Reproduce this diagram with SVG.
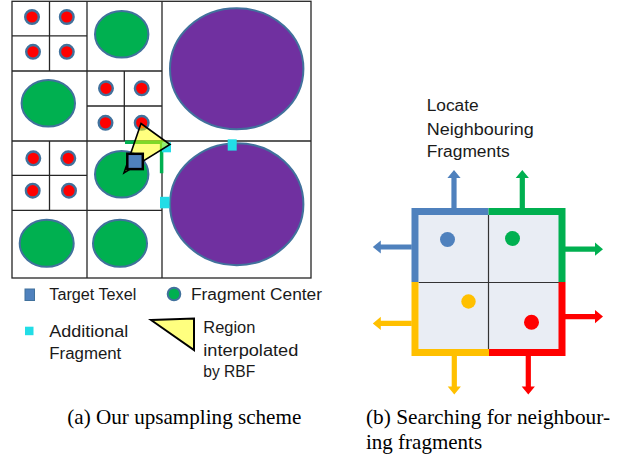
<svg xmlns="http://www.w3.org/2000/svg" xmlns:xlink="http://www.w3.org/1999/xlink" width="620" height="456" viewBox="0 0 620 456">
  <style>
    .grid { fill: none; stroke: #262626; stroke-width: 1.3; }
    .sub { stroke: #262626; stroke-width: 1.3; }
    .red { fill: #FF0000; stroke: #41719C; stroke-width: 2.4; }
    .frag { fill: #00B050; stroke: #41719C; stroke-width: 2; }
    .big { fill: #7030A0; stroke: #41719C; stroke-width: 2; }
    .add { fill: #22DDE6; }
    .region { fill: #FFFF00; fill-opacity: 0.5; stroke: #000; stroke-width: 1.6; stroke-linejoin: miter; }
    .texel { fill: #4F81BD; stroke: #000; stroke-width: 2.5; }
    .lbl { font-family: "Liberation Sans", Arial, sans-serif; font-size: 16px; fill: #1a1a1a; }
    .cap { font-family: "Liberation Serif", "Times New Roman", serif; font-size: 21px; fill: #000; }
    .cell { fill: #E9EDF4; }
    .div { stroke: #333; stroke-width: 1.2; }
    .edge { fill: none; stroke-width: 7; stroke-linejoin: miter; }
  </style>
  <defs>
    <!-- block arrow pointing along +x, base at origin -->
    <path id="arrow" d="M0,-2.6 H31 V-6.6 L39,0 L31,6.6 V2.6 H0 Z"/>
  </defs>

  <!-- (a) quadtree upsampling grid -->
  <g id="quadtree">
    <!-- large fragments -->
    <ellipse class="big" cx="236.7" cy="68.8" rx="66.7" ry="60.5"/>
    <ellipse class="big" cx="236.7" cy="204.2" rx="66.7" ry="61"/>
    <!-- medium fragments -->
    <ellipse class="frag" cx="121.7" cy="34.3" rx="26.7" ry="23.3"/>
    <ellipse class="frag" cx="48.3" cy="103.3" rx="26.7" ry="23.3"/>
    <ellipse class="frag" cx="121.7" cy="174.3" rx="26.7" ry="23.3"/>
    <ellipse class="frag" cx="46.7" cy="243.3" rx="27" ry="23.5"/>
    <ellipse class="frag" cx="120" cy="243.3" rx="27" ry="23.5"/>
    <!-- small fragments -->
    <circle class="red" cx="32" cy="17" r="6.8"/>
    <circle class="red" cx="66.8" cy="17" r="6.8"/>
    <circle class="red" cx="33" cy="51.8" r="6.8"/>
    <circle class="red" cx="66.8" cy="51.8" r="6.8"/>
    <circle class="red" cx="106" cy="88.3" r="6.8"/>
    <circle class="red" cx="141.7" cy="88.3" r="6.8"/>
    <circle class="red" cx="105.5" cy="122.8" r="6.8"/>
    <circle class="red" cx="141.7" cy="122.8" r="6.8"/>
    <circle class="red" cx="33.3" cy="158.3" r="6.8"/>
    <circle class="red" cx="68.3" cy="158.3" r="6.8"/>
    <circle class="red" cx="32.7" cy="190.7" r="6.8"/>
    <circle class="red" cx="69" cy="190.7" r="6.8"/>
    <!-- cell boundaries -->
    <rect class="grid" x="12" y="1.3" width="299" height="276.7"/>
    <line class="sub" x1="87" y1="1.3" x2="87" y2="278"/>
    <line class="sub" x1="162" y1="1.3" x2="162" y2="278"/>
    <line class="sub" x1="12" y1="141" x2="311" y2="141"/>
    <line class="sub" x1="12" y1="71" x2="162" y2="71"/>
    <line class="sub" x1="12" y1="210.3" x2="162" y2="210.3"/>
    <line class="sub" x1="49.5" y1="1.3" x2="49.5" y2="71"/>
    <line class="sub" x1="12" y1="35.8" x2="87" y2="35.8"/>
    <line class="sub" x1="124.3" y1="71" x2="124.3" y2="141"/>
    <line class="sub" x1="87" y1="106" x2="162" y2="106"/>
    <line class="sub" x1="49.5" y1="141" x2="49.5" y2="210.3"/>
    <line class="sub" x1="12" y1="175.4" x2="87" y2="175.4"/>
  </g>

  <!-- neighbour search edges around the target texel -->
  <g id="search-edges">
    <path d="M125,142.3 H161.6 V173.3" fill="none" stroke="#00B050" stroke-width="3.5"/>
  </g>

  <g id="additional-fragments">
    <rect class="add" x="227.7" y="139.3" width="9" height="11.3"/>
    <rect class="add" x="160" y="196.8" width="9.5" height="11.5"/>
    <rect class="add" x="162" y="142.3" width="9" height="10"/>
  </g>

  <g id="rbf-region">
    <polygon class="region" points="141,123.5 170,144.5 124,173"/>
  </g>

  <g id="target-texel">
    <rect class="texel" x="127.3" y="153.8" width="15.5" height="15.3"/>
  </g>

  <!-- legend -->
  <g id="legend-texel">
    <rect x="25" y="289" width="9.5" height="11.5" fill="#4F81BD" stroke="#41719C" stroke-width="1"/>
    <text class="lbl" x="49.3" y="300" textLength="87" lengthAdjust="spacingAndGlyphs">Target Texel</text>
  </g>
  <g id="legend-center">
    <circle cx="174" cy="294" r="6.3" fill="#00B050" stroke="#41719C" stroke-width="2"/>
    <text class="lbl" x="191" y="300" textLength="131" lengthAdjust="spacingAndGlyphs">Fragment Center</text>
  </g>
  <g id="legend-additional">
    <rect class="add" x="25" y="326.7" width="8.5" height="8.5"/>
    <text class="lbl" x="49.3" y="336.7" textLength="79" lengthAdjust="spacingAndGlyphs">Additional</text>
    <text class="lbl" x="49.3" y="359.3" textLength="72" lengthAdjust="spacingAndGlyphs">Fragment</text>
  </g>
  <g id="legend-region">
    <polygon points="151,320 194,318.5 194,350" fill="#FFFF00" fill-opacity="0.5" stroke="#000" stroke-width="2"/>
    <text class="lbl" x="203.3" y="333.3" textLength="52" lengthAdjust="spacingAndGlyphs">Region</text>
    <text class="lbl" x="203.3" y="356" textLength="95" lengthAdjust="spacingAndGlyphs">interpolated</text>
    <text class="lbl" x="203.3" y="377" textLength="52" lengthAdjust="spacingAndGlyphs">by RBF</text>
  </g>

  <!-- (b) 2x2 block searching outward -->
  <g id="block">
    <rect class="cell" x="418.5" y="215" width="140.5" height="134"/>
    <line class="div" x1="488.5" y1="215" x2="488.5" y2="349"/>
    <line class="div" x1="418.5" y1="282.5" x2="559" y2="282.5"/>
    <circle cx="447.5" cy="239.5" r="7.5" fill="#4F81BD"/>
    <circle cx="512.5" cy="238.5" r="7.5" fill="#00B050"/>
    <circle cx="468.5" cy="301.5" r="7.2" fill="#FFC000"/>
    <circle cx="531.5" cy="322.3" r="7.5" fill="#FF0000"/>
  </g>

  <g id="connectors">
    <path class="edge" stroke="#4F81BD" d="M415,282 V211.5 H488.5"/>
    <path class="edge" stroke="#00B050" d="M488.5,211.5 H562 V282"/>
    <path class="edge" stroke="#FFC000" d="M415,282 V352.5 H489"/>
    <path class="edge" stroke="#FF0000" d="M489,352.5 H562 V282"/>
    <use xlink:href="#arrow" fill="#4F81BD" transform="translate(454,209) rotate(-90)"/>
    <use xlink:href="#arrow" fill="#00B050" transform="translate(522.3,209) rotate(-90)"/>
    <use xlink:href="#arrow" fill="#4F81BD" transform="translate(411.8,247) rotate(180)"/>
    <use xlink:href="#arrow" fill="#00B050" transform="translate(564,249.2)"/>
    <use xlink:href="#arrow" fill="#FFC000" transform="translate(411.8,323.4) rotate(180)"/>
    <use xlink:href="#arrow" fill="#FF0000" transform="translate(564,316.6)"/>
    <use xlink:href="#arrow" fill="#FFC000" transform="translate(454.3,355.5) rotate(90)"/>
    <use xlink:href="#arrow" fill="#FF0000" transform="translate(528.3,355.5) rotate(90)"/>
  </g>

  <g id="search-label">
    <text class="lbl" x="426.7" y="110.7" textLength="52" lengthAdjust="spacingAndGlyphs">Locate</text>
    <text class="lbl" x="426.7" y="135" textLength="107" lengthAdjust="spacingAndGlyphs">Neighbouring</text>
    <text class="lbl" x="426.7" y="157" textLength="83" lengthAdjust="spacingAndGlyphs">Fragments</text>
  </g>

  <!-- sub-figure captions -->
  <g id="captions">
    <text class="cap" x="67.3" y="424.3" textLength="234" lengthAdjust="spacingAndGlyphs">(a) Our upsampling scheme</text>
    <text class="cap" x="366" y="424.3" textLength="244" lengthAdjust="spacingAndGlyphs">(b) Searching for neighbour-</text>
    <text class="cap" x="366" y="449">ing fragments</text>
  </g>
</svg>
